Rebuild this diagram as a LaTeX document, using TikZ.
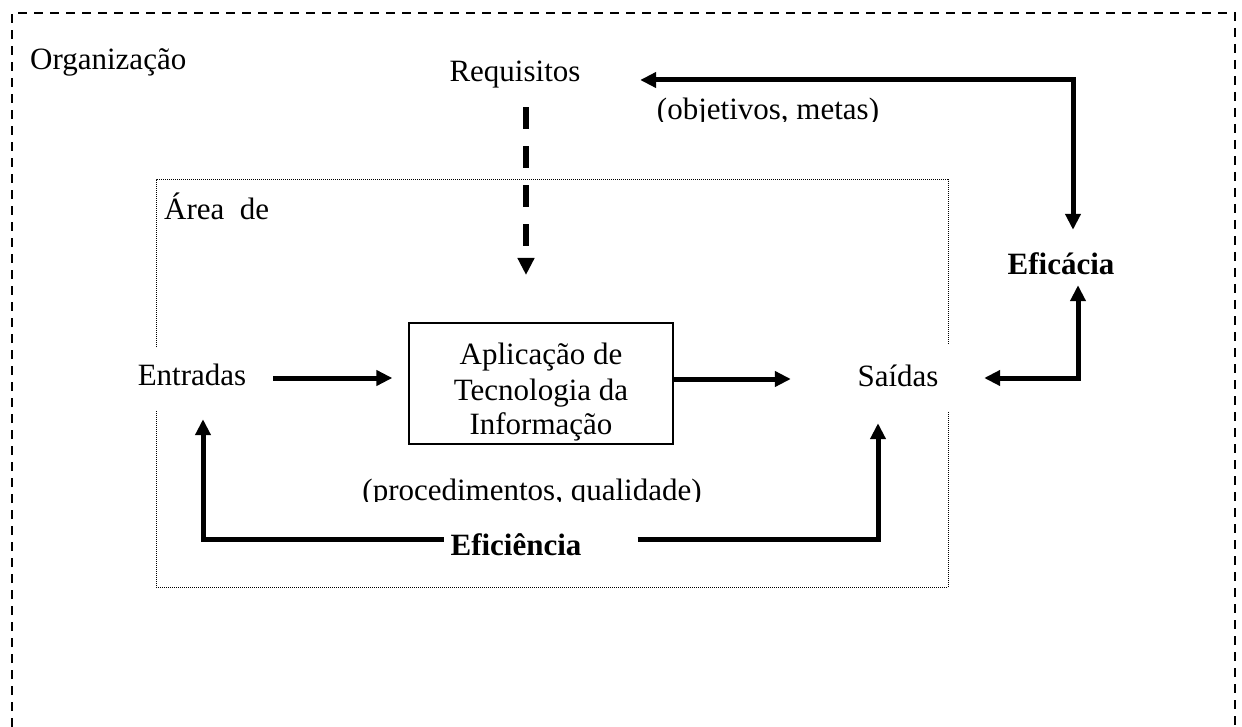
\documentclass[tikz,border=0pt]{standalone}
\usepackage{fontspec}
\setmainfont{Liberation Serif}
\usetikzlibrary{arrows.meta}
\begin{document}
\begin{tikzpicture}[x=1pt,y=-1pt,
  txt/.style={inner sep=0pt, text height=21pt, text depth=7pt, font=\fontsize{31}{35}\selectfont},
  btxt/.style={txt, font=\fontsize{31}{35}\selectfont\bfseries},
  arr/.style={line width=5pt, -{Triangle[length=16pt,width=15pt]}},
  biarr/.style={line width=5pt, {Triangle[length=16pt,width=15pt]}-{Triangle[length=16pt,width=15pt]}},
  dasharr/.style={line width=6pt, dash pattern=on 22pt off 17pt, -{Triangle[length=17pt,width=16pt]}},
  outerline/.style={line width=1.3pt, dash pattern=on 9pt off 7pt},
  dotline/.style={line width=1pt, dash pattern=on 1pt off 1pt},
  appbox/.style={draw, line width=1.3pt, minimum width=264pt, minimum height=121pt, inner sep=0pt}]
\useasboundingbox (0,0) rectangle (1242,727);
\fill[white] (0,0) rectangle (1242,727);
% frames
\draw[outerline] (12,727) -- (12,13) -- (1235,13) -- (1235,727);
\draw[dotline] (156,347) -- (156,180) -- (948,180) -- (948,345);
\draw[dotline] (156,411) -- (156,587) -- (948,587) -- (948,411);
% texts
\node[txt, anchor=base west] (org) at (30,70) {Organização};
\node[txt, anchor=base] (req) at (515,82) {Requisitos};
\node[txt, anchor=base west] (area) at (164,220) {Área\ \ de};
\node[btxt, anchor=base] (efc) at (1061,275) {Eficácia};
\node[txt, anchor=base] (ent) at (192,385) {Entradas};
\node[txt, anchor=base] (sai) at (898,386) {Saídas};
\node[appbox] (app) at (541,383.5) {};
\node[txt, anchor=base] (app1) at (541,364) {Aplicação de};
\node[txt, anchor=base] (app2) at (541,400) {Tecnologia da};
\node[txt, anchor=base] (app3) at (541,434) {Informação};
\begin{scope}
  \clip (600,90) rectangle (950,121.5);
  \node[txt, anchor=base] (obj) at (768,120) {(objetivos, metas)};
\end{scope}
\begin{scope}
  \clip (300,470) rectangle (800,501.5);
  \node[txt, anchor=base] (proc) at (532,500) {(procedimentos, qualidade)};
\end{scope}
\node[btxt, anchor=base] (efi) at (516,555) {Eficiência};
% corner coordinates
\coordinate (reqtip) at (526,275);
\coordinate (k1) at (1073,80);
\coordinate (k2) at (1078,378);
\coordinate (kL) at (203,539);
\coordinate (kR) at (878,539);
% connectors
\draw[dasharr, shorten <=18pt] (req.south -| reqtip) -- (reqtip);
\draw[biarr, shorten <=59.5pt, shorten >=24pt] (req.east |- k1) -- (k1) -- (k1 |- efc.north);
\draw[biarr, shorten <=3pt, shorten >=45.5pt] (k2 |- efc.south) -- (k2) -- (sai.east |- k2);
\draw[arr, shorten <=27pt, shorten >=16pt] (ent.east) -- (ent.east -| app.west);
\draw[arr, shorten >=66.5pt] (app.east |- sai.west) -- (sai.west);
\draw[arr, shorten >=27pt] ([xshift=-6.5pt]efi.west |- kL) -- (kL) -- (kL |- ent.south);
\draw[arr, shorten <=56pt, shorten >=30pt] (efi.east |- kR) -- (kR) -- (kR |- sai.south);
\end{tikzpicture}
\end{document}
